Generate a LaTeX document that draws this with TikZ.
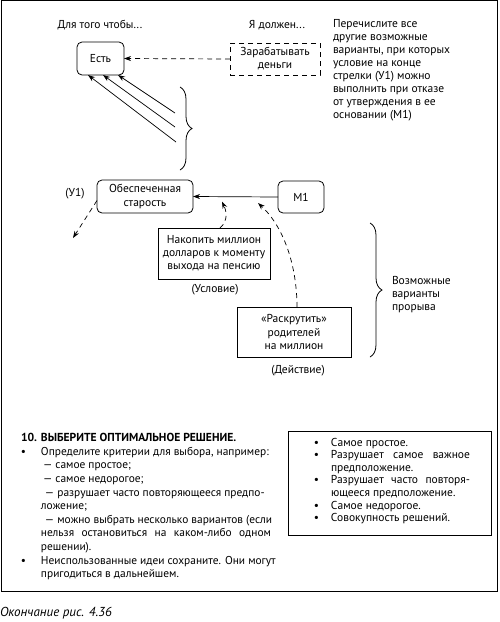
\documentclass[tikz,border=0pt]{standalone}
\usepackage{fontspec}
\setmainfont{PT Sans}
\usetikzlibrary{arrows.meta,decorations.pathreplacing,calc}
\newcommand{\jline}[1]{\makebox[230pt][s]{#1}}
\newcommand{\bul}{\llap{•\hspace{15pt}}}
\begin{document}
\begin{tikzpicture}[x=1pt,y=-1pt,
  every node/.style={inner sep=0pt, outer sep=0pt},
  lbl/.style={font=\fontsize{11.5}{13.1}\selectfont, align=center},
  rbox/.style={draw, line width=0.8pt, rounded corners=5pt, lbl},
  sbox/.style={draw, line width=0.8pt, lbl},
  dbox/.style={draw, line width=0.8pt, dash pattern=on 5pt off 4pt, lbl},
  arr/.style={line width=0.7pt, -{Stealth[length=7pt,width=5pt]}},
  darr/.style={arr, dash pattern=on 5pt off 4pt},
  brc/.style={line width=0.8pt, decorate, decoration={brace, amplitude=12pt}},
  small/.style={font=\fontsize{11.4}{13.6}\selectfont},
]
\useasboundingbox (0,0) rectangle (500,622);
\draw[line width=1pt] (1.5,0.5) rectangle (497.5,591);

% headings
\node[lbl] (h1) at (100,25) {Для того чтобы...};
\node[lbl] (h2) at (277,25) {Я должен...};
\node[lbl, align=left, anchor=north west] (par) at (333,19) {Перечислите все\\другие возможные\\варианты, при которых\\условие на конце\\стрелки (У1) можно\\выполнить при отказе\\от утверждения в ее\\основании (М1)};

% nodes
\node[rbox, minimum width=47pt, minimum height=33pt] (est) at (100.5,58.5) {Есть};
\node[dbox, minimum width=90pt, minimum height=32pt] (zar) at (275,59) {Зарабатывать\\деньги};
\node[rbox, minimum width=96pt, minimum height=33pt] (obs) at (145,196.5) {Обеспеченная\\старость};
\node[rbox, minimum width=46pt, minimum height=32pt] (m1) at (301,197) {М1};
\node[lbl] (u1) at (75,194) {(У1)};
\node[sbox, minimum width=112pt, minimum height=51pt] (nak) at (214,253.5) {Накопить миллион\\долларов к моменту\\выхода на пенсию};
\node[lbl] (usl) at (215,290) {(Условие)};
\node[sbox, minimum width=114pt, minimum height=50pt] (ras) at (294,332) {«Раскрутить»\\родителей\\на миллион};
\node[lbl] (dei) at (298,371) {(Действие)};
\node[lbl, align=left, anchor=west] (voz) at (392,294.5) {Возможные\\варианты\\прорыва};

% connectors
\draw[darr] (zar.west) -- (est.east);
\coordinate (t1) at (175,113);
\coordinate (t2) at (175,127);
\coordinate (t3) at (176,142);
\draw[arr] (t1) -- ($(est.south)+(17.5,0)$);
\draw[arr] (t2) -- ($(est.south)+(2.5,0)$);
\draw[arr] (t3) -- ($(est.south)+(-12.5,0)$);
\draw[arr] (m1.west) -- (obs.east);
\coordinate (u1end) at (73,238);
\draw[darr] ($(obs.west)+(0,4)$) -- (u1end);
\draw[darr] ($(nak.north)+(6,0)$) .. controls (229,220) and (226,210) .. ($(obs.east)+(29,5)$);
\draw[darr] ($(ras.north)+(3,0)$) .. controls (297,268) and (285,228) .. ($(m1.west)+(-20,6)$);

% braces
\draw[brc] (180,87) -- (180,170);
\draw[brc] (370,223) -- (370,357);

% bottom text
\node[anchor=north west, font=\fontsize{11.6}{13.6}\selectfont\bfseries] (ttl) at (21,433) {10. ВЫБЕРИТЕ ОПТИМАЛЬНОЕ РЕШЕНИЕ.};
\node[small, anchor=north west, align=left] (lst) at (41,447) {%
\bul Определите критерии для выбора, например:\\
\hspace*{2pt}— самое простое;\\
\hspace*{2pt}— самое недорогое;\\
\hspace*{4pt}— разрушает часто повторяющееся предпо-\\
ложение;\\
\hspace*{4pt}— можно выбрать несколько вариантов (если\\
\jline{нельзя остановиться на каком-либо одном}\\
решении).\\
\bul Неиспользованные идеи сохраните. Они могут\\
пригодиться в дальнейшем.};

\node[draw, line width=0.8pt, minimum width=203pt, minimum height=104pt] (crit) at (389.5,483) {};
\node[anchor=north west, text width=139pt, align=justify, font=\fontsize{11.5}{12.6}\selectfont] (critt) at (331,438) {%
\llap{•\hspace{12pt}}Самое простое.\\
\llap{•\hspace{12pt}}Разрушает самое важное\linebreak предположение.\\
\llap{•\hspace{12pt}}Разрушает часто повторя-\linebreak ющееся предположение.\\
\llap{•\hspace{12pt}}Самое недорогое.\\
\llap{•\hspace{12pt}}Совокупность решений.};

\node[anchor=west, font=\fontsize{13}{15}\selectfont\itshape] (cap) at (0,613) {Окончание рис. 4.36};
\end{tikzpicture}
\end{document}
